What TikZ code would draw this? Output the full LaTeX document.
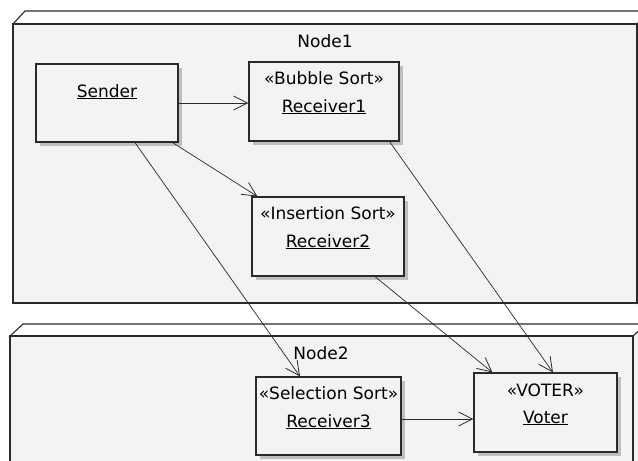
\documentclass[tikz,border=0pt]{standalone}
\usepackage{fontspec}
\setmainfont{DejaVu Sans}
\usetikzlibrary{arrows.meta,shadows,calc}
\definecolor{nodefill}{HTML}{F3F3F3}
\definecolor{edge}{HTML}{2A2A2A}
\tikzset{
  deploy/.style={draw=edge, line width=1.1pt, fill=nodefill},
  topface/.style={draw=edge, line width=1.1pt, fill=white},
  box/.style={draw=edge, line width=1.2pt, fill=nodefill, rectangle, inner sep=0pt,
    drop shadow={shadow xshift=3.5pt, shadow yshift=-3.5pt, fill=black!30, opacity=0.8}},
  txt/.style={inner sep=0pt, anchor=base, font=\fontsize{17}{18}\selectfont, text=black},
  ttl/.style={inner sep=0pt, anchor=base, font=\fontsize{17}{18}\selectfont, text=black},
  dep/.style={draw=edge, line width=0.7pt, -{Straight Barb[length=14pt,width=14pt,line width=0.8pt]}}
}
\begin{document}
\begin{tikzpicture}[x=1pt,y=-1pt]
\useasboundingbox (0,0) rectangle (638,461);
\clip (0,0) rectangle (638,461);
\fill[white] (0,0) rectangle (638,461);
% Node1
\draw[topface] (13,24) -- (25,11) -- (652,11) -- (640,24) -- cycle;
\draw[deploy] (637,24) -- (650,11) -- (650,290) -- (637,303) -- cycle;
\draw[deploy] (13,24) rectangle (637,303);
\node[ttl] (n1) at (325,47) {Node1};
% Node2
\draw[topface] (10,336) -- (23,324) -- (652,324) -- (640,336) -- cycle;
\draw[deploy] (633,336) -- (646,324) -- (646,475) -- (633,475) -- cycle;
\draw[deploy] (10,336) rectangle (633,475);
\node[ttl] (n2) at (321,359) {Node2};
% boxes
\node[box, minimum width=142pt, minimum height=78pt] (sender) at (107,103) {};
\node[box, minimum width=150pt, minimum height=79pt] (r1) at (324,101.5) {};
\node[box, minimum width=152pt, minimum height=79pt] (r2) at (328,236.5) {};
\node[box, minimum width=145pt, minimum height=78pt] (r3) at (328.5,416) {};
\node[box, minimum width=143pt, minimum height=79pt] (voter) at (545.5,412.5) {};
% texts
\node[txt] (ts) at (107,97) {\underline{Sender}};
\node[txt] (t1a) at (324,84) {«Bubble Sort»};
\node[txt] (t1b) at (324,112) {\underline{Receiver1}};
\node[txt] (t2a) at (328,219) {«Insertion Sort»};
\node[txt] (t2b) at (328,247) {\underline{Receiver2}};
\node[txt] (t3a) at (328.5,399) {«Selection Sort»};
\node[txt] (t3b) at (328.5,427) {\underline{Receiver3}};
\node[txt] (tva) at (545.5,396) {«VOTER»};
\node[txt] (tvb) at (545.5,423) {\underline{Voter}};
% connectors
\draw[dep] (sender.east) -- (sender.east -| r1.west);
\draw[dep] ([xshift=-6pt]sender.south east) -- ([xshift=6pt]r2.north west);
\draw[dep] ([xshift=28pt]sender.south) -- ([xshift=-28.5pt]r3.north);
\draw[dep] ([xshift=-10pt]r1.south east) -- ([xshift=7.5pt]voter.north);
\draw[dep] ([xshift=47pt]r2.south) -- ([xshift=19pt]voter.north west);
\draw[dep] ([yshift=-3pt]r3.east) -- ([yshift=-3pt]r3.east -| voter.west);
\end{tikzpicture}
\end{document}
